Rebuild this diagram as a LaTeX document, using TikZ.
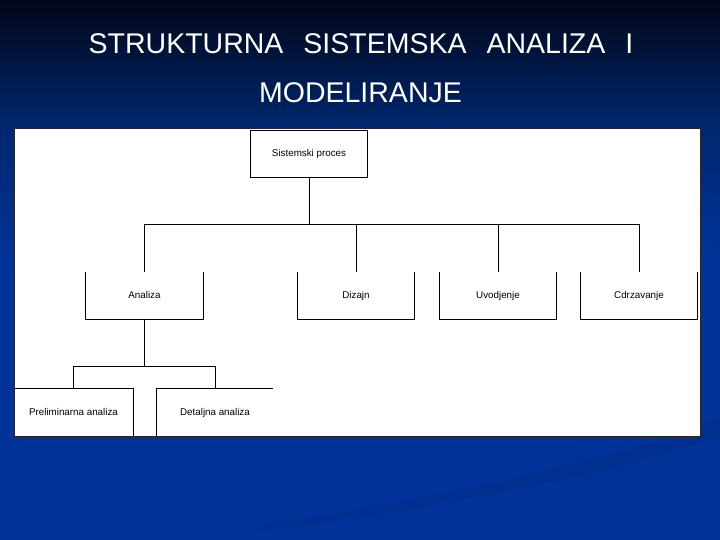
\documentclass[tikz,border=0pt]{standalone}
\usepackage{fontspec}
\setmainfont{Liberation Sans}
\usetikzlibrary{positioning}

\definecolor{slidetop}{RGB}{2,6,24}
\definecolor{slidemid}{RGB}{0,40,112}
\definecolor{slideblue}{RGB}{0,51,153}
\definecolor{swoosh}{RGB}{0,44,135}

\begin{document}
\begin{tikzpicture}[x=1pt, y=-1pt, every node/.style={inner sep=0pt, font=\fontsize{9.8}{11}\selectfont}]
\tikzset{openbox/.style={minimum width=117pt, minimum height=47pt, text height=7pt, text depth=2pt},
  fullbox/.style={openbox, draw, line width=0.8pt},
  bar/.style={line width=0.8pt}}
% slide background
\useasboundingbox (0,0) rectangle (720,540);
\fill[slideblue] (0,0) rectangle (720,540);
\shade[top color=slidetop, bottom color=slidemid] (0,0) rectangle (720,130);
\shade[top color=slidemid, bottom color=slideblue] (0,130) rectangle (720,260);
\fill[swoosh, opacity=0.5] (260,525) .. controls (420,500) and (600,465) .. (720,418) -- (720,436) .. controls (600,478) and (420,510) .. (260,532) -- cycle;
% title
\node[text=white, font=\fontsize{28.5}{30}\selectfont, anchor=base] (t1) at (361,54) {STRUKTURNA\hspace{20pt}SISTEMSKA\hspace{20pt}ANALIZA\hspace{20pt}I};
\node[text=white, font=\fontsize{28.5}{30}\selectfont, anchor=base] (t2) at (360.5,103) {MODELIRANJE};
% white panel
\node[fill=white, draw=black!85, line width=1pt, minimum width=686pt, minimum height=308pt] (panel) at (357,282.5) {};
% nodes
\node[fullbox] (sp) at (309,154) {Sistemski proces};
\node[openbox] (an) at (144.5,295.5) {Analiza};
\node[openbox] (di) at (356,295.5) {Dizajn};
\node[openbox] (uv) at (498,295.5) {Uvodjenje};
\node[openbox] (od) at (639,295.5) {Cdrzavanje};
\node[openbox, minimum width=119pt] (pa) at (73.5,412.5) {Preliminarna analiza};
\node[openbox, minimum width=116pt] (da) at (215,412.5) {Detaljna analiza};
\foreach \b in {an,di,uv,od}
  \draw[bar] (\b.north west) -- (\b.south west) -- (\b.south east) -- (\b.north east);
\draw[bar] (pa.north west) -- (pa.north east) -- (pa.south east);
\draw[bar] (da.south west) -- (da.north west) -- (da.north east);
% connectors
\coordinate (bus1) at (0,224);
\coordinate (bus2) at (0,366);
\draw[bar] (sp.south) -- (sp.south |- bus1);
\draw[bar] (an.north) -- (an.north |- bus1) -- (od.north |- bus1) -- (od.north);
\draw[bar] (di.north) -- (di.north |- bus1);
\draw[bar] (uv.north) -- (uv.north |- bus1);
\draw[bar] (an.south) -- (an.south |- bus2);
\draw[bar] (pa.north) -- (pa.north |- bus2) -- (da.north |- bus2) -- (da.north);
\end{tikzpicture}
\end{document}
